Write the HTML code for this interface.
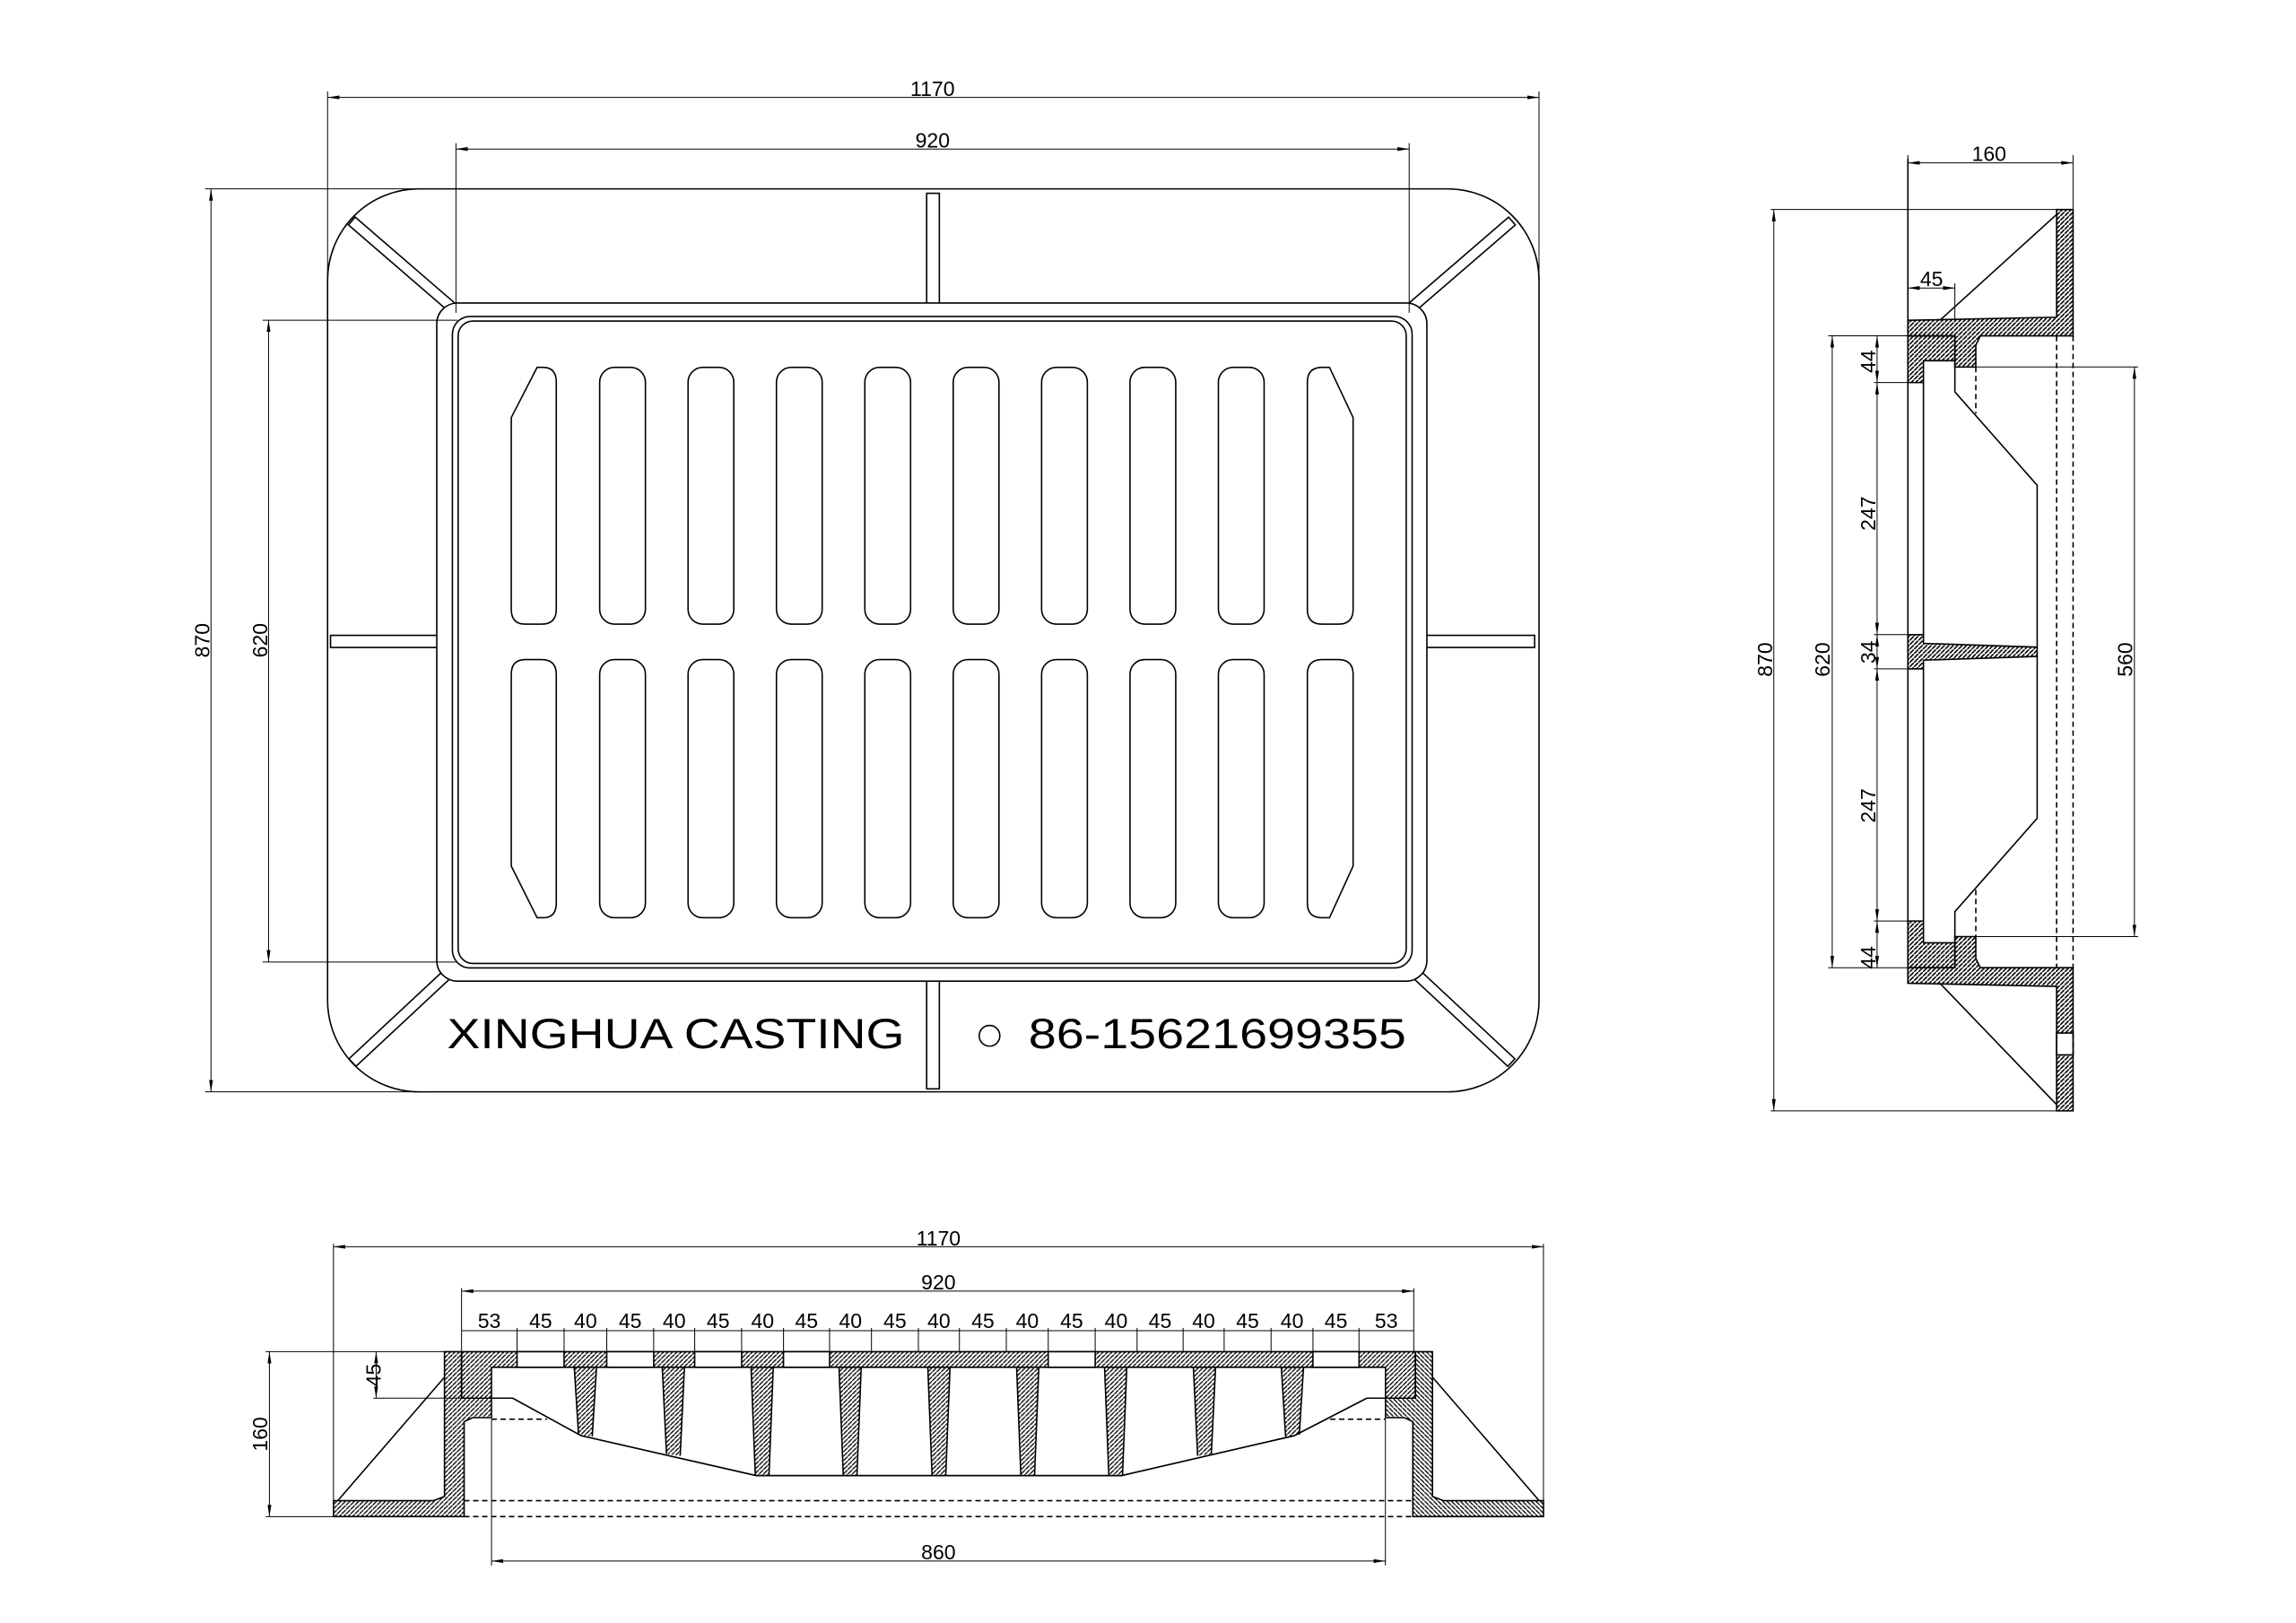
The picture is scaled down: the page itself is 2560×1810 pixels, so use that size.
<!DOCTYPE html>
<html><head><meta charset="utf-8"><style>
html,body{margin:0;padding:0;background:#fff;}
svg{display:block}
.s *{vector-effect:non-scaling-stroke}
text{font-family:"Liberation Sans",sans-serif;fill:#000;stroke:none}
</style></head><body>
<svg width="2560" height="1810" viewBox="0 0 1556 1100" preserveAspectRatio="none" xmlns="http://www.w3.org/2000/svg">
<defs>
<marker id="ar" viewBox="0 0 10 7" markerWidth="8" markerHeight="2.6" refX="10" refY="3.5" orient="auto-start-reverse" markerUnits="userSpaceOnUse" preserveAspectRatio="none"><path d="M0,0L10,3.5L0,7z" fill="#000"/></marker>
<pattern id="hb" patternUnits="userSpaceOnUse" width="5.2" height="14.8"><line x1="-5.2" y1="29.6" x2="10.4" y2="-14.8" stroke="#000" stroke-width="1.6"/><line x1="-10.4" y1="44.4" x2="15.6" y2="-29.6" stroke="#000" stroke-width="1.6"/></pattern>
<pattern id="hs" patternUnits="userSpaceOnUse" width="14.8" height="7.1"><line x1="0" y1="7.1" x2="14.8" y2="0" stroke="#000" stroke-width="3"/></pattern>
</defs>
<rect width="1556" height="1100" fill="#fff"/>
<g class="s" fill="none" stroke="#000" stroke-width="1.6">
<!-- MAIN PLAN VIEW -->
<rect x="222" y="128" width="821" height="612" rx="62"/>
<g fill="#fff">
<rect x="-45" y="-3.5" width="90" height="7" transform="translate(272.5 179.2) rotate(40.8)"/>
<rect x="-45" y="-3.5" width="90" height="7" transform="translate(990.6 179.2) rotate(-40.8)"/>
<rect x="-46" y="-3.5" width="92" height="7" transform="translate(272.5 688.8) rotate(-43)"/>
<rect x="-46" y="-3.5" width="92" height="7" transform="translate(990.6 688.8) rotate(43)"/>
<rect x="628" y="131" width="8.6" height="76"/>
<rect x="628" y="663" width="8.6" height="75"/>
<rect x="224" y="430.6" width="74" height="8.2"/>
<rect x="965" y="430.6" width="75" height="8.2"/>
<rect x="296" y="205.4" width="671" height="459.6" rx="14"/>
</g>
<rect x="306.6" y="214.5" width="650.4" height="441.5" rx="12"/>
<rect x="310.5" y="217.6" width="642.5" height="435.4" rx="10"/>
<!-- slots -->
<g>
<path d="M364,249 L368,249 Q377,249 377,259 L377,413 Q377,423 367,423 L356,423 Q346.5,423 346.5,413 L346.5,283 Z"/>
<rect x="406.4" y="249" width="31" height="174" rx="10"/>
<rect x="466.3" y="249" width="31" height="174" rx="10"/>
<rect x="526.2" y="249" width="31" height="174" rx="10"/>
<rect x="586.1" y="249" width="31" height="174" rx="10"/>
<rect x="646" y="249" width="31" height="174" rx="10"/>
<rect x="705.9" y="249" width="31" height="174" rx="10"/>
<rect x="765.8" y="249" width="31" height="174" rx="10"/>
<rect x="825.7" y="249" width="31" height="174" rx="10"/>
<path d="M901,249 L896,249 Q886,249 886,259 L886,413 Q886,423 896,423 L907,423 Q917,423 917,413 L917,283 Z"/>
<path d="M364,622 L368,622 Q377,622 377,612 L377,457 Q377,447 367,447 L356,447 Q346.5,447 346.5,457 L346.5,587 Z"/>
<rect x="406.4" y="447" width="31" height="175" rx="10"/>
<rect x="466.3" y="447" width="31" height="175" rx="10"/>
<rect x="526.2" y="447" width="31" height="175" rx="10"/>
<rect x="586.1" y="447" width="31" height="175" rx="10"/>
<rect x="646" y="447" width="31" height="175" rx="10"/>
<rect x="705.9" y="447" width="31" height="175" rx="10"/>
<rect x="765.8" y="447" width="31" height="175" rx="10"/>
<rect x="825.7" y="447" width="31" height="175" rx="10"/>
<path d="M901,622 L896,622 Q886,622 886,612 L886,457 Q886,447 896,447 L907,447 Q917,447 917,457 L917,587 Z"/>
</g>
<circle cx="670.6" cy="702" r="7"/>
<!-- main dims -->
<g stroke-width="1">
<line x1="222" y1="62" x2="222" y2="190"/><line x1="1043" y1="62" x2="1043" y2="190"/>
<line x1="222" y1="66" x2="1043" y2="66" marker-start="url(#ar)" marker-end="url(#ar)"/>
<line x1="309" y1="97" x2="309" y2="212"/><line x1="955" y1="97" x2="955" y2="212"/>
<line x1="309" y1="101" x2="955" y2="101" marker-start="url(#ar)" marker-end="url(#ar)"/>
<line x1="139" y1="128" x2="290" y2="128"/><line x1="139" y1="740" x2="290" y2="740"/>
<line x1="143" y1="128" x2="143" y2="740" marker-start="url(#ar)" marker-end="url(#ar)"/>
<line x1="178" y1="217" x2="310" y2="217"/><line x1="178" y1="652" x2="310" y2="652"/>
<line x1="182" y1="217" x2="182" y2="652" marker-start="url(#ar)" marker-end="url(#ar)"/>
</g>

<!-- SIDE VIEW -->
<g transform="matrix(0.2028,0,0,0.4219,1195.03,92.63)">
<path fill="url(#hs)" d="M483,295 L980,290 L980,117 L1035,117 L1035,320 L725,320 L710,335 L710,370 L640,370 L640,320 L483,320 Z"/>
<path fill="url(#hs)" d="M483,1360 L980,1365 L980,1565 L1035,1565 L1035,1335 L725,1335 L710,1320 L710,1285 L640,1285 L640,1335 L483,1335 Z"/>
<rect x="980" y="1440" width="55" height="35" fill="#fff"/>
<path fill="url(#hs)" d="M483,320 L640,320 L640,360 L535,360 L535,395 L483,395 Z"/>
<path fill="url(#hs)" d="M483,1335 L640,1335 L640,1295 L535,1295 L535,1260 L483,1260 Z"/>
<path fill="url(#hs)" d="M483,800 L535,800 L535,814 L915,820 L915,835 L535,841 L535,855 L483,855 Z"/>
<path d="M535,395 L535,800 M535,855 L535,1260 M640,360 L640,410 L915,560 L915,820 M915,835 L915,1095 L640,1245 L640,1295"/>
<line x1="483" y1="35" x2="483" y2="1360"/>
<line x1="980" y1="125" x2="590" y2="295"/>
<line x1="590" y1="1360" x2="980" y2="1555"/>
<g stroke-dasharray="6,4">
<line x1="710" y1="370" x2="710" y2="445"/><line x1="710" y1="1210" x2="710" y2="1285"/>
<line x1="980" y1="320" x2="980" y2="1335"/><line x1="1035" y1="320" x2="1035" y2="1335"/>
<line x1="980" y1="1440" x2="980" y2="1475"/><line x1="1035" y1="1440" x2="1035" y2="1475"/>
</g>
</g>
<g stroke-width="1">
<line x1="1293" y1="105" x2="1293" y2="142"/><line x1="1404.9" y1="105" x2="1404.9" y2="142"/>
<line x1="1293" y1="110.4" x2="1404.9" y2="110.4" marker-start="url(#ar)" marker-end="url(#ar)"/>
<line x1="1200" y1="142" x2="1404.9" y2="142"/><line x1="1200" y1="752.9" x2="1404.9" y2="752.9"/>
<line x1="1202.1" y1="142" x2="1202.1" y2="752.9" marker-start="url(#ar)" marker-end="url(#ar)"/>
<line x1="1239" y1="227.6" x2="1293" y2="227.6"/><line x1="1239" y1="655.9" x2="1293" y2="655.9"/>
<line x1="1241.7" y1="227.6" x2="1241.7" y2="655.9" marker-start="url(#ar)" marker-end="url(#ar)"/>
<line x1="1270" y1="259.3" x2="1303.5" y2="259.3"/><line x1="1270" y1="430.1" x2="1303.5" y2="430.1"/>
<line x1="1270" y1="453.3" x2="1303.5" y2="453.3"/><line x1="1270" y1="624.2" x2="1303.5" y2="624.2"/>
<line x1="1272.1" y1="227.6" x2="1272.1" y2="259.3" marker-start="url(#ar)" marker-end="url(#ar)"/>
<line x1="1272.1" y1="259.3" x2="1272.1" y2="430.1" marker-start="url(#ar)" marker-end="url(#ar)"/>
<line x1="1272.1" y1="430.1" x2="1272.1" y2="453.3" marker-start="url(#ar)" marker-end="url(#ar)"/>
<line x1="1272.1" y1="453.3" x2="1272.1" y2="624.2" marker-start="url(#ar)" marker-end="url(#ar)"/>
<line x1="1272.1" y1="624.2" x2="1272.1" y2="655.9" marker-start="url(#ar)" marker-end="url(#ar)"/>
<line x1="1325" y1="248.7" x2="1449" y2="248.7"/><line x1="1325" y1="634.8" x2="1449" y2="634.8"/>
<line x1="1446.5" y1="248.7" x2="1446.5" y2="634.8" marker-start="url(#ar)" marker-end="url(#ar)"/>
<line x1="1324.8" y1="192" x2="1324.8" y2="217"/>
<line x1="1293" y1="195.2" x2="1324.8" y2="195.2" marker-start="url(#ar)" marker-end="url(#ar)"/>
</g>

<!-- BOTTOM SECTION VIEW -->
<g transform="matrix(0.5787,0,0,0.2032,165.24,827.73)">
<path fill="url(#hb)" d="M255,435 L1372,435 L1372,590 L1315,590 L1230,715 L1028,848 L600,848 L395,715 L315,590 L255,590 Z"/>
<path fill="#fff" d="M290,487 L1337,487 L1337,590 L1315,590 L1230,715 L1028,848 L600,848 L395,715 L315,590 L290,590 Z"/>
<g fill="url(#hb)" stroke="none">
<polygon points="387,487 413,487 408,718 392,712"/>
<polygon points="490,487 516,487 511,782 495,776"/>
<polygon points="594,487 620,487 615,848 599,848"/>
<polygon points="697,487 723,487 718,848 702,848"/>
<polygon points="801,487 827,487 822,848 806,848"/>
<polygon points="905,487 931,487 926,848 910,848"/>
<polygon points="1008,487 1034,487 1029,848 1013,848"/>
<polygon points="1112,487 1138,487 1133,776 1117,782"/>
<polygon points="1215,487 1241,487 1236,712 1220,718"/>
</g>
<path d="M387,487 L392,712 M413,487 L408,718 M490,487 L495,776 M516,487 L511,782 M594,487 L599,848 M620,487 L615,848 M697,487 L702,848 M723,487 L718,848 M801,487 L806,848 M827,487 L822,848 M905,487 L910,848 M931,487 L926,848 M1008,487 L1013,848 M1034,487 L1029,848 M1112,487 L1117,782 M1138,487 L1133,776 M1215,487 L1220,718 M1241,487 L1236,712"/>
<g fill="#fff">
<rect x="320" y="435" width="55" height="52"/><rect x="425" y="435" width="55" height="52"/>
<rect x="528" y="435" width="55" height="52"/><rect x="632" y="435" width="54" height="52"/>
<rect x="942" y="435" width="55" height="52"/><rect x="1252" y="435" width="54" height="52"/>
</g>
<g id="lf">
<path fill="url(#hb)" d="M235,435 L255,435 L255,590 L290,590 L290,655 L268,655 L258,668 L258,985 L105,985 L105,932 L222,932 L235,918 Z"/>
<line x1="110" y1="932" x2="235" y2="520"/>
</g>
<g transform="translate(1627,0) scale(-1,1)">
<path fill="url(#hb)" d="M235,435 L255,435 L255,590 L290,590 L290,655 L268,655 L258,668 L258,985 L105,985 L105,932 L222,932 L235,918 Z"/>
<line x1="110" y1="932" x2="235" y2="520"/>
</g>
<g stroke-dasharray="6,4">
<line x1="290" y1="660" x2="355" y2="660"/><line x1="1272" y1="660" x2="1337" y2="660"/>
<line x1="258" y1="932" x2="1369" y2="932"/><line x1="258" y1="985" x2="1369" y2="985"/>
</g>
</g>
<g stroke-width="1">
<line x1="226" y1="843" x2="226" y2="1017"/><line x1="1046" y1="843" x2="1046" y2="1017"/>
<line x1="226" y1="845" x2="1046" y2="845" marker-start="url(#ar)" marker-end="url(#ar)"/>
<line x1="312.8" y1="873" x2="312.8" y2="916"/><line x1="958.1" y1="873" x2="958.1" y2="916"/>
<line x1="312.8" y1="875.1" x2="958.1" y2="875.1" marker-start="url(#ar)" marker-end="url(#ar)"/>
<path d="M350.4,900V916M382.3,900V916M411.2,900V916M443,900V916M470.8,900V916M502.6,900V916M531,900V916M562.2,900V916M590.6,900V916M622.4,900V916M650.2,900V916M682,900V916M710.4,900V916M742.2,900V916M770.6,900V916M801.8,900V916M829.6,900V916M861.4,900V916M889.8,900V916M921,900V916"/>
<line x1="312.8" y1="901.9" x2="958.1" y2="901.9"/>
<line x1="180" y1="916.1" x2="301" y2="916.1"/><line x1="180" y1="1027.9" x2="226" y2="1027.9"/>
<line x1="182.6" y1="916.1" x2="182.6" y2="1027.9" marker-start="url(#ar)" marker-end="url(#ar)"/>
<line x1="253" y1="947.6" x2="312.8" y2="947.6"/>
<line x1="254.9" y1="916.1" x2="254.9" y2="947.6" marker-start="url(#ar)" marker-end="url(#ar)"/>
<line x1="333.1" y1="961.8" x2="333.1" y2="1061"/><line x1="938.9" y1="961.8" x2="938.9" y2="1061"/>
<line x1="333.1" y1="1058" x2="938.9" y2="1058" marker-start="url(#ar)" marker-end="url(#ar)"/>
</g>
</g>

<!-- TEXT -->
<g font-size="14" text-anchor="middle">
<text x="632" y="65">1170</text>
<text x="632" y="100">920</text>
<text transform="translate(142 434) rotate(-90)">870</text>
<text transform="translate(181 434) rotate(-90)">620</text>
<text x="1348" y="109">160</text>
<text x="1309" y="194">45</text>
<text transform="translate(1201 447) rotate(-90)">870</text>
<text transform="translate(1240 447) rotate(-90)">620</text>
<text transform="translate(1271 245) rotate(-90)">44</text>
<text transform="translate(1271 348) rotate(-90)">247</text>
<text transform="translate(1271 442) rotate(-90)">34</text>
<text transform="translate(1271 546) rotate(-90)">247</text>
<text transform="translate(1271 649) rotate(-90)">44</text>
<text transform="translate(1445 447) rotate(-90)">560</text>
<text x="636" y="844">1170</text>
<text x="636" y="874">920</text>
<text x="636" y="1057">860</text>
<text transform="translate(258 932) rotate(-90)">45</text>
<text transform="translate(181 972) rotate(-90)">160</text>
<text x="331.6" y="900">53</text><text x="366.4" y="900">45</text><text x="396.8" y="900">40</text>
<text x="427.1" y="900">45</text><text x="456.9" y="900">40</text><text x="486.7" y="900">45</text>
<text x="516.8" y="900">40</text><text x="546.6" y="900">45</text><text x="576.4" y="900">40</text>
<text x="606.5" y="900">45</text><text x="636.3" y="900">40</text><text x="666.1" y="900">45</text>
<text x="696.2" y="900">40</text><text x="726.3" y="900">45</text><text x="756.4" y="900">40</text>
<text x="786.2" y="900">45</text><text x="815.7" y="900">40</text><text x="845.5" y="900">45</text>
<text x="875.6" y="900">40</text><text x="905.4" y="900">45</text><text x="939.5" y="900">53</text>
</g>
<text x="303" y="710.4" font-size="28.5" textLength="310" lengthAdjust="spacingAndGlyphs">XINGHUA CASTING</text>
<text x="697" y="710.4" font-size="28.5" textLength="256" lengthAdjust="spacingAndGlyphs">86-15621699355</text>
</svg>
</body></html>
